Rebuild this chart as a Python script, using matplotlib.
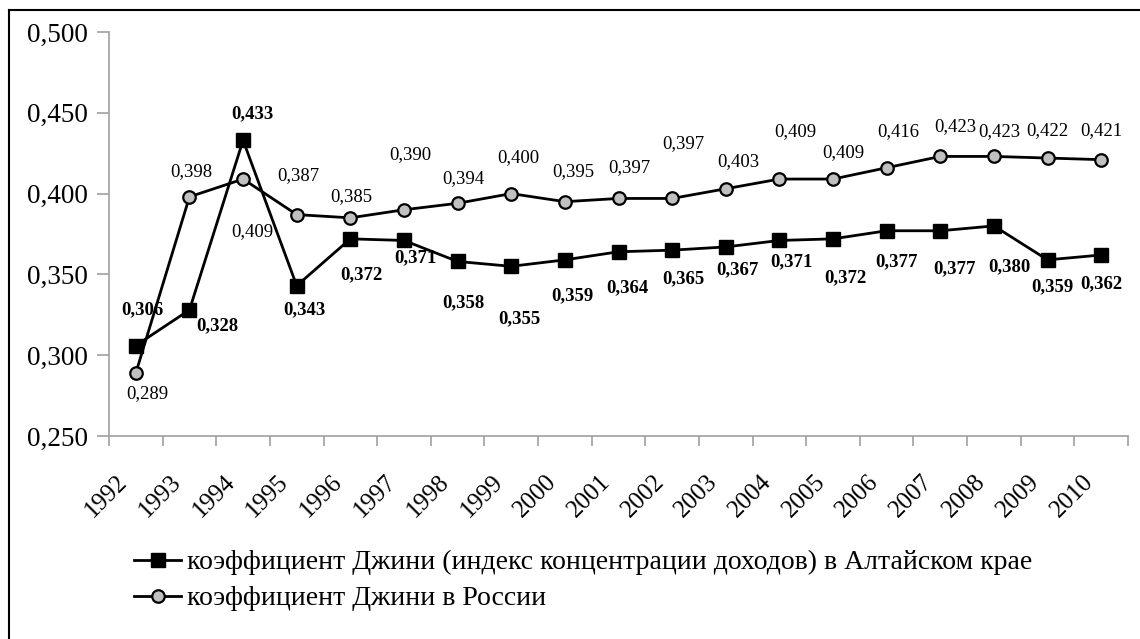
import matplotlib.pyplot as plt
from matplotlib.lines import Line2D
import numpy as np

plt.rcParams['font.family'] = ['Liberation Serif', 'DejaVu Serif']

years = [str(y) for y in range(1992, 2011)]
altai = [0.306, 0.328, 0.433, 0.343, 0.372, 0.371, 0.358, 0.355, 0.359, 0.364,
         0.365, 0.367, 0.371, 0.372, 0.377, 0.377, 0.380, 0.359, 0.362]
russia = [0.289, 0.398, 0.409, 0.387, 0.385, 0.390, 0.394, 0.400, 0.395, 0.397,
          0.397, 0.403, 0.409, 0.409, 0.416, 0.423, 0.423, 0.422, 0.421]
label_altai = "коэффициент Джини (индекс концентрации доходов) в Алтайском крае"
label_russia = "коэффициент Джини в России"

# label offsets in pixels (dx, dy up)
off_altai = [(7, 36), (28, -16), (9, 27), (8, -24), (11, -36), (11, -17), (6, -41),
             (8, -52), (8, -36), (9, -36), (11, -29), (12, -23), (12, -21), (12, -39),
             (10, -31), (14, -38), (15, -41), (5, -27), (0, -29)]
off_russia = [(11, -21), (2, 25), (9, -53), (2, 39), (1, 21), (6, 55), (6, 25),
              (7, 36), (8, 30), (11, 31), (11, 55), (13, 27), (16, 47), (10, 26),
              (12, 36), (15, 30), (5, 25), (0, 27), (0, 29)]

def fmt(v):
    return f"{v:.3f}".replace('.', ',')

fig = plt.figure(figsize=(11.4, 6.39), dpi=100)
ax = fig.add_axes([109 / 1140, 1 - 436 / 639, (1128 - 109) / 1140, (436 - 32) / 639])

sq = dict(color='black', lw=2, marker='s', ms=9.5, mfc='black', mec='black')
ci = dict(color='black', lw=2, marker='o', ms=9, mfc='#c0c0c0', mec='black', mew=1.6)

x = np.arange(len(years))
ax.plot(x, altai, zorder=3, **sq)
ax.plot(x, russia, zorder=3, **ci)

for i in range(len(years)):
    ax.annotate(fmt(altai[i]), (x[i], altai[i]), xytext=off_altai[i], textcoords='offset pixels',
                ha='center', va='center', fontsize=13.5, fontweight='bold')
    ax.annotate(fmt(russia[i]), (x[i], russia[i]), xytext=off_russia[i], textcoords='offset pixels',
                ha='center', va='center', fontsize=13.5)

ax.set_xlim(-0.5, len(years) - 0.5)
ax.set_ylim(0.25, 0.5)
yt = [0.25, 0.30, 0.35, 0.40, 0.45, 0.50]
ax.set_yticks(yt)
ax.set_yticklabels([fmt(v) for v in yt], fontsize=19.5)
# rotated labels sit slightly left of the category centre, as in the source
ax.set_xticks(x - 0.36)
ax.set_xticklabels(years, rotation=45, ha='right', va='top', fontsize=18,
                   rotation_mode='anchor')
ax.set_xticks(np.arange(-0.5, len(years)), minor=True)
ax.tick_params(axis='x', which='major', length=0, pad=25)
ax.tick_params(axis='x', which='minor', length=7, color='#a0a0a0', width=1.2, direction='out')
ax.tick_params(axis='y', length=9, color='#a0a0a0', width=1.2, pad=6)

for s in ['top', 'right']:
    ax.spines[s].set_visible(False)
for s in ['left', 'bottom']:
    ax.spines[s].set_color('#a0a0a0')
    ax.spines[s].set_linewidth(1.2)

handles = [Line2D([], [], **sq), Line2D([], [], **ci)]
fig.legend(handles, [label_altai, label_russia], loc='upper left',
           bbox_to_anchor=(109 / 1140, 1 - 525 / 639), frameon=False, fontsize=20,
           handlelength=1.7, handletextpad=0.2, labelspacing=0.38)

# outer border (left and top edges)
fig.add_artist(Line2D([9 / 1140, 9 / 1140], [0, 1 - 10 / 639], color='black', lw=1.5,
                      transform=fig.transFigure))
fig.add_artist(Line2D([9 / 1140, 1], [1 - 10 / 639, 1 - 10 / 639], color='black', lw=1.5,
                      transform=fig.transFigure))

fig.savefig('out.png', dpi=100)
